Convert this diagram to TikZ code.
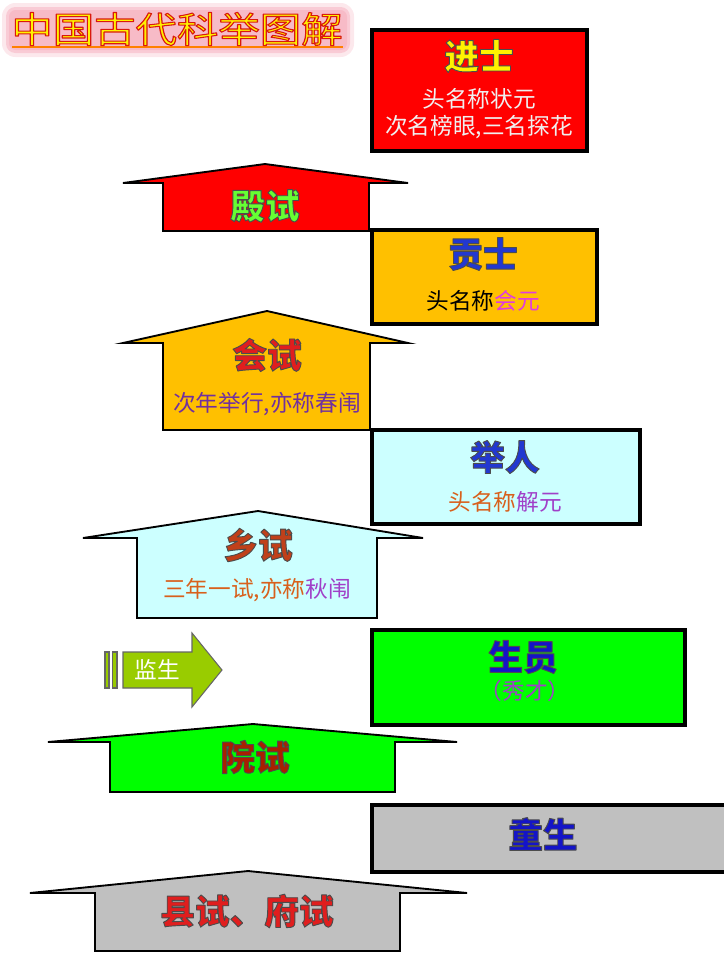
\documentclass[tikz,border=0pt]{standalone}
\usepackage{fontspec}
\setmainfont{Noto Sans CJK SC}
\definecolor{jsred}{HTML}{FF0000}
\definecolor{gsgold}{HTML}{FFC000}
\definecolor{jrcyan}{HTML}{CCFFFF}
\definecolor{sygreen}{HTML}{00FF00}
\definecolor{tsgray}{HTML}{C0C0C0}
\definecolor{jsgreen}{HTML}{99CC00}
\definecolor{ttlblue}{HTML}{2238D0}
\definecolor{dpblue}{HTML}{1414C8}
\definecolor{magenta2}{HTML}{E03CE0}
\definecolor{purple2}{HTML}{7030A0}
\definecolor{purple3}{HTML}{A040C8}
\definecolor{orange2}{HTML}{D8601C}
\definecolor{redtxt}{HTML}{E01E1E}
\definecolor{brownred}{HTML}{C0401A}
\definecolor{darkred2}{HTML}{A82000}
\definecolor{dsgreen}{HTML}{66FF33}
\definecolor{glowpink}{HTML}{F28AA0}
\tikzset{
  boxframe/.style={draw=black, line width=2.6pt},
  arrowshape/.style={draw=black, line width=1.4pt, line join=miter},
  headtext/.style={font=\fontsize{26}{28}\selectfont\bfseries, inner sep=0pt},
  subtext/.style={font=\fontsize{17}{19}\selectfont, inner sep=0pt},
  titletext/.style={font=\fontsize{27}{29}\selectfont, inner sep=0pt, xscale=1.15},
}
% text filled in the current colour and stroked in a dark outline
\newcommand\strokedtext[3]{\special{pdf:literal direct #1 RG #2 w 1 j 2 Tr}#3\special{pdf:literal direct 0 Tr}}
% tipL, tipR, tipY, apexX, apexY, bodyL, bodyR, bottom, colour
\newcommand\housearrow[9]{%
  \draw[arrowshape, fill=#9] (#6,#8) -- (#6,#3) -- (#1,#3) -- (#4,#5) -- (#2,#3) -- (#7,#3) -- (#7,#8) -- cycle;}
% name, x,y, colour, text
\newcommand\shadowtext[4]{%
  \node[headtext] (#1) at (#2) {\color{#3}\strokedtext{0.3 0.3 0.3}{0.7}{#4}};}
\begin{document}
\begin{tikzpicture}[x=0.75pt,y=-0.75pt]
\useasboundingbox (0,0) rectangle (724,954);
% ---------- title ----------
\fill[glowpink, opacity=0.2, rounded corners=10pt] (2,3) rectangle (354,57);
\fill[glowpink, opacity=0.3, rounded corners=7pt] (6,7) rectangle (350,53);
\fill[glowpink, opacity=0.25, rounded corners=5pt] (9,10) rectangle (347,50);
\draw[orange, line width=1.5pt] (12,47) -- (343,47);
\node[titletext] (title) at (177,29) {\color{yellow}\strokedtext{0.85 0.1 0.05}{0.8}{中国古代科举图解}};
% ---------- right boxes ----------
\draw[boxframe, fill=jsred] (372,30) rectangle (587,151);
\shadowtext{jinshi}{479,56}{yellow}{进士}
\node[subtext, text=white!94!black] (jinshiA) at (479,99) {头名称状元};
\node[subtext, text=white!94!black] (jinshiB) at (479,127) {次名榜眼,三名探花};

\draw[boxframe, fill=gsgold] (372,230) rectangle (597,324);
\shadowtext{gongshi}{483,254}{ttlblue}{贡士}
\node[subtext] (gongshiA) at (483,301) {头名称\textcolor{magenta2}{会元}};

\draw[boxframe, fill=jrcyan] (372,430) rectangle (640,524);
\shadowtext{juren}{505,457}{ttlblue}{举人}
\node[subtext, text=orange2] (jurenA) at (505,502) {头名称\textcolor{purple3}{解元}};

\draw[boxframe, fill=sygreen] (372,630) rectangle (685,725);
\shadowtext{shengyuan}{523,657}{dpblue}{生员}
\node[subtext, text=purple3] (shengyuanA) at (525,691) {（秀才）};

\draw[boxframe, fill=tsgray] (372,805) rectangle (735,872);
\shadowtext{tongsheng}{543,834}{dpblue}{童生}
% ---------- up arrows ----------
\housearrow{123}{408}{183}{265}{164}{163}{369}{231}{jsred}
\shadowtext{dianshi}{265,206}{dsgreen}{殿试}

\housearrow{123}{408}{343}{267}{311}{163}{370}{430}{gsgold}
\shadowtext{huishi}{267,355}{redtxt}{会试}
\node[subtext, text=purple2] (huishiA) at (267,404) {次年举行,亦称春闱};

\housearrow{83}{423}{538}{258}{511}{137}{377}{618}{jrcyan}
\shadowtext{xiangshi}{258,545}{brownred}{乡试}
\node[subtext, text=orange2] (xiangshiA) at (257,590) {三年一试,亦称\textcolor{purple3}{秋闱}};

\housearrow{48}{457}{742}{253}{724}{110}{395}{792}{sygreen}
\shadowtext{yuanshi}{255,757}{darkred2}{院试}

\housearrow{30}{467}{893}{248}{871}{95}{400}{951}{tsgray}
\shadowtext{xianshi}{247,911}{redtxt}{县试、府试}
% ---------- jiansheng arrow ----------
\draw[draw=black!60, line width=0.8pt, fill=jsgreen] (105,652) rectangle (109,688);
\draw[draw=black!60, line width=0.8pt, fill=jsgreen] (112.5,652) rectangle (117,688);
\draw[draw=black!60, line width=0.8pt, fill=jsgreen, line join=miter]
  (123,652) -- (192,652) -- (192,633) -- (222,670) -- (192,707) -- (192,688) -- (123,688) -- cycle;
\node[subtext, text=white] (jiansheng) at (157,670) {监生};
\end{tikzpicture}
\end{document}
